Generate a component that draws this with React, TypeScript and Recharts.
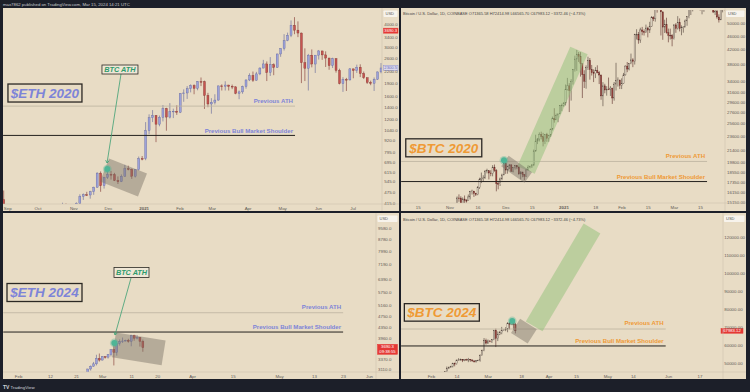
import React from 'react';
import { ComposedChart, Bar, XAxis, YAxis, ReferenceLine, ReferenceDot } from 'recharts';

const FONT = '"Liberation Sans", Arial, sans-serif';
const PANEL_BG = '#e8dcc5';
const FRAME_BG = '#1c1f29';
const TICK_COLOR = '#5f5b55';
const ETH_TEXT = '#7d84d8';
const BTC_TEXT = '#ef9a35';
const GREEN = '#3c9f73';

// ---------- ETH 2020: 3-day candles, t = days from 2021-01-01 ----------
const ETH20_START = -122;
const ETH20_STEP = 3;
const ETH20_OPEN0 = 435;
const ETH20_HIGH = [
  488, 395, 360, 392, 390, 395, 392, 352, 362, 365,
  375, 355, 367, 395, 390, 380, 395, 418, 414, 408,
  397, 420, 465, 470, 480, 486, 512, 615, 621, 580,
  625, 625, 610, 583, 598, 675, 668, 645, 640, 750,
  755, 1160, 1280, 1350, 1265, 1260, 1440, 1390, 1475, 1375,
  1435, 1675, 1755, 1830, 1870, 1870, 1950, 2040, 1960, 1680,
  1570, 1650, 1840, 1870, 1945, 1860, 1865, 1825, 1730, 1840,
  1990, 2150, 2200, 2190, 2320, 2550, 2500, 2640, 2440, 2760,
  2950, 3530, 3600, 4200, 4380, 4150, 3600, 2950, 2750, 2910,
  2710, 2890, 2860, 2840, 2620, 2620, 2600, 2280, 2050, 2030,
  2300, 2280, 2400, 2410, 2200, 2040, 1960, 2040, 2200, 2450,
];
const ETH20_LOW = [
  370, 310, 330, 350, 360, 360, 335, 315, 340, 350,
  340, 335, 336, 364, 370, 360, 370, 390, 385, 370,
  375, 373, 412, 433, 455, 440, 462, 505, 480, 500,
  565, 560, 550, 530, 543, 580, 630, 565, 575, 628,
  715, 716, 995, 1160, 900, 1100, 1170, 1040, 1215, 1220,
  1270, 1300, 1500, 1555, 1690, 1650, 1735, 1830, 1370, 1400,
  1290, 1450, 1520, 1730, 1730, 1730, 1760, 1650, 1550, 1660,
  1770, 1950, 1930, 1960, 2100, 2290, 1950, 2080, 2100, 2300,
  2650, 2870, 3230, 3400, 3530, 3400, 1900, 1950, 1730, 2320,
  2160, 2560, 2550, 2330, 2250, 2300, 2170, 1870, 1700, 1720,
  1960, 2020, 2160, 2050, 2000, 1880, 1850, 1720, 1980, 2150,
];
const ETH20_CLOSE = [
  385, 353, 351, 387, 364, 384, 341, 348, 357, 360,
  346, 341, 365, 387, 378, 378, 392, 410, 405, 387,
  383, 415, 453, 462, 461, 480, 509, 608, 518, 575,
  598, 596, 554, 545, 585, 642, 638, 585, 635, 731,
  730, 1041, 1225, 1262, 1130, 1233, 1377, 1236, 1324, 1331,
  1314, 1660, 1677, 1768, 1843, 1779, 1937, 1935, 1626, 1459,
  1492, 1533, 1834, 1826, 1854, 1823, 1812, 1669, 1700, 1820,
  1977, 2093, 1971, 2135, 2299, 2422, 2171, 2397, 2317, 2747,
  2945, 3253, 3484, 3952, 3715, 3581, 2460, 2295, 2706, 2419,
  2707, 2855, 2715, 2609, 2372, 2590, 2231, 1888, 1990, 1979,
  2275, 2226, 2324, 2147, 2033, 1915, 1895, 1995, 2189, 2300.5,
];
const ETH20_XTICKS = [-122, -92, -61, -31, 0, 31, 59, 90, 120, 151, 181];
const ETH20_XLABELS = ['Sep', 'Oct', 'Nov', 'Dec', '2021', 'Feb', 'Mar', 'Apr', 'May', 'Jun', 'Jul'];
const ETH20_YTICKS = [4000, 3400, 3000, 2600, 2200, 1900, 1600, 1400, 1200, 1040, 920, 795, 695, 615, 545, 475, 415];

// ---------- BTC 2020: daily candles, d = days from 2021-01-01 ----------
const BTC20_START = -58; // 2020-11-04
const BTC20_OPEN0 = 14030;
const BTC20_HIGH = [
  14250, 15750, 15970, 15770, 15650, 15850, 15470, 15960, 16350, 16480, 16330, 16140, 16880, 17850, 18480, 18150, 18800, 18960, 18700, 18770, 19420, 19500, 18900, 17480, 17880, 18340, 19860,
  19920, 19340, 19560, 19520, 19180, 19420, 19420, 19290, 18640, 18560, 18290, 18950, 19410, 19350, 19570, 21560, 23800, 23290, 24170, 24290, 24100, 23840, 24100, 23780, 24790, 26870, 28420, 27410, 27380, 28990, 29300,
  29600, 33300, 34800, 33600, 34500, 36940, 40380, 41950, 41380, 41350, 38260, 36630, 37850, 40100, 39750, 37950, 36850, 37400, 37860, 36420, 35600, 33830, 33460, 32940, 34880, 32940, 32560, 33860, 38500, 34930, 34340,
  34700, 35990, 37850, 38700, 38320, 40950, 39700, 46750, 48200, 47330, 48680, 48950, 48160, 49710, 49000, 50640, 52620, 52550, 56300, 57490, 58350, 57520, 54200, 51350, 52050, 48400, 48380, 46640,
  49800, 50200, 52600, 51800, 49450, 49200, 51450, 52400, 54900, 57400, 58100, 58000, 61700, 61600, 60600, 56950, 58950, 60000, 59450, 59900, 58600, 58400, 55850, 57200, 53250, 55100, 56600, 56550,
];
const BTC20_LOW = [
  13530, 14100, 15200, 14350, 14700, 14800, 15100, 15280, 15440, 15950, 15700, 15800, 15880, 16560, 17220, 17360, 17750, 18380, 17650, 18030, 18020, 18580, 16300, 16520, 16890, 17550, 18180,
  18320, 18340, 18920, 18570, 18500, 18860, 18900, 18200, 17650, 17910, 17570, 18020, 18730, 19000, 19050, 19290, 21230, 22350, 22750, 23060, 22020, 22360, 22700, 22700, 23440, 24500, 25800, 26280, 25880, 27320, 27850,
  28700, 28950, 32000, 27700, 29900, 33290, 36300, 36500, 38720, 35110, 30420, 32530, 32380, 36700, 34400, 35360, 33850, 34760, 35880, 33400, 30070, 28800, 31400, 30900, 32080, 30840, 29240, 29890, 31990, 32850, 32300,
  32300, 33420, 35360, 36160, 36600, 38140, 37400, 38060, 45000, 43740, 43990, 46300, 46210, 47100, 45640, 47000, 48970, 50880, 50700, 53850, 55500, 46230, 44900, 47000, 46800, 44150, 45000, 43000,
  45000, 47050, 48100, 47500, 46300, 47100, 48880, 49320, 51850, 53000, 54300, 55000, 56100, 58950, 54600, 53250, 54150, 57000, 56300, 57850, 55500, 53700, 53000, 51700, 50400, 51250, 53950, 54700,
];
const BTC20_CLOSE = [
  14150, 15590, 15580, 14830, 15480, 15330, 15310, 15700, 16290, 16330, 16070, 15960, 16730, 17660, 17800, 17820, 18660, 18700, 18420, 18370, 19160, 18720, 17160, 17140, 17720, 18180, 19700,
  18790, 19230, 19450, 18650, 19150, 19360, 19170, 18320, 18550, 18250, 18040, 18810, 19170, 19270, 19440, 21350, 22810, 23130, 23850, 23480, 22740, 23820, 23240, 23730, 24710, 26490, 26280, 27040, 27360, 28890, 29000,
  29410, 32200, 33000, 31990, 33990, 36800, 39480, 40670, 40240, 38240, 35550, 34050, 37390, 39150, 36770, 36020, 35800, 36630, 36010, 35470, 30850, 33000, 32100, 32290, 32270, 32510, 30430, 33400, 34270, 34320, 33110,
  33540, 35510, 37670, 36930, 38290, 39260, 38870, 46450, 46530, 44850, 47970, 47380, 47180, 48580, 47930, 49140, 52150, 51660, 55890, 55840, 57410, 54130, 48890, 49700, 47060, 46290, 46180, 45240,
  49620, 48440, 50370, 48370, 48760, 48880, 50970, 52380, 54880, 55860, 57800, 57230, 61180, 58970, 55610, 56900, 58910, 57650, 58030, 58100, 57350, 54090, 54340, 52300, 51300, 55060, 55840, 55780,
];
const BTC20_XTICKS = [-78, -61, -46, -31, -17, 0, 17, 31, 45, 59, 73];
const BTC20_XLABELS = ['15', 'Nov', '16', 'Dec', '15', '2021', '18', 'Feb', '15', 'Mar', '15'];
const BTC20_YTICKS = [50000, 46000, 42000, 38000, 34000, 31600, 29600, 27600, 25600, 23600, 21400, 19800, 18550, 17350, 16150, 15150];

// ---------- ETH 2024: daily candles, d = days from 2024-03-01 ----------
const ETH24_START = -6; // 2024-02-24
const ETH24_OPEN0 = 2920;
const ETH24_HIGH = [3005, 3115, 3200, 3290, 3485, 3520, 3450, 3450, 3500, 3640, 3830, 3900, 3940, 4000, 3930, 3960, 4090, 4090, 4080, 4010, 3935];
const ETH24_LOW = [2910, 2985, 3070, 3170, 3200, 3300, 3330, 3380, 3380, 3440, 3200, 3460, 3750, 3830, 3880, 3840, 3730, 3900, 3940, 3720, 3570];
const ETH24_CLOSE = [2995, 3110, 3180, 3240, 3385, 3340, 3430, 3420, 3490, 3630, 3550, 3815, 3870, 3890, 3910, 3880, 4065, 3980, 4005, 3880, 3690.3];
const ETH24_XTICKS = [-29, -18, -9, 0, 10, 19, 31, 45, 61, 73, 83, 92];
const ETH24_XLABELS = ['Feb', '12', '21', 'Mar', '11', '20', 'Apr', '15', 'May', '13', '23', 'Jun'];
const ETH24_YTICKS = [9580, 8780, 7990, 7190, 6390, 5750, 5160, 4750, 4350, 3960, 3370, 3110];

// ---------- BTC 2024: daily candles, d = days from 2024-03-01 ----------
const BTC24_START = -23; // 2024-02-07
const BTC24_OPEN0 = 43090;
const BTC24_HIGH = [
  44380, 45600, 48200, 48170, 48590, 50300, 50370, 52000, 52820, 52570, 52200, 52370, 52480, 52980, 52380, 52040, 51560, 51700, 51960,
  54940, 57560, 64000, 63680, 63170, 62480, 63300, 68530, 69200, 67640, 67970, 70170, 68600, 70000, 72800, 72950, 73650, 73780, 72414.98,
];
const BTC24_LOW = [
  42770, 44330, 45250, 46800, 47550, 47700, 48300, 49250, 51330, 51600, 50650, 51170, 51700, 50600, 50850, 50900, 50580, 50580, 51300,
  50900, 54450, 56700, 60400, 60800, 61660, 61250, 62820, 59000, 62300, 65600, 66100, 68100, 67800, 67200, 68800, 71350, 68600, 66565.7,
];
const BTC24_CLOSE = [
  44340, 45300, 47130, 47750, 48300, 49920, 49700, 51800, 51900, 52130, 51640, 52120, 51780, 52270, 51840, 51300, 50740, 51570, 51730,
  54480, 57060, 62500, 61170, 62430, 62050, 63150, 68300, 63800, 66100, 66900, 68300, 68500, 68950, 72100, 71500, 73100, 71355.58, 67983.12,
];
const BTC24_XTICKS = [-29, -16, 0, 17, 31, 45, 61, 74, 92, 108];
const BTC24_XLABELS = ['Feb', '14', 'Mar', '18', 'Apr', '15', 'May', '14', 'Jun', '17'];
const BTC24_YTICKS = [120000, 110000, 100000, 90000, 80000, 70000, 60000, 50000];

const BTC_HEADER = 'Bitcoin / U.S. Dollar, 1D, COINBASE   O71365.58 H72414.98 L66565.70 C67983.12 \u22123372.46 (\u22124.73%)';

function candles(start: number, step: number, open0: number, high: number[], low: number[], close: number[]) {
  return close.map((c, i) => ({
    t: start + i * step,
    o: i === 0 ? open0 : close[i - 1],
    h: high[i],
    l: low[i],
    c,
    range: [low[i], high[i]],
  }));
}

const ETH_PAL = { up: { body: '#9ca1d9', edge: '#5f6399' }, down: { body: '#c65450', edge: '#7d302d' } };
const BTC_PAL = { up: { body: '#f1e8d6', edge: '#4d3e36' }, down: { body: '#a13f39', edge: '#5a2a26' } };

function Candle(props: any) {
  const { x, y, width, height, payload, log, pal, bw } = props;
  if (x == null || y == null || !payload) return <g />;
  const top = Math.min(y, y + height);
  const bot = Math.max(y, y + height);
  const f = (v: number) => (log ? Math.log(v) : v);
  const span = f(payload.h) - f(payload.l);
  const py = (v: number) => (span > 0 ? bot - ((f(v) - f(payload.l)) / span) * (bot - top) : top);
  const cx = x + width / 2;
  const yo = py(payload.o);
  const yc = py(payload.c);
  const c = payload.c >= payload.o ? pal.up : pal.down;
  return (
    <g>
      <line x1={cx} x2={cx} y1={top} y2={bot} stroke={c.edge} strokeWidth={0.6} />
      <rect
        x={cx - bw / 2}
        y={Math.min(yo, yc)}
        width={bw}
        height={Math.max(0.7, Math.abs(yc - yo))}
        fill={c.body}
        stroke={c.edge}
        strokeWidth={0.35}
      />
    </g>
  );
}

const makeXTick = (ticks: number[], labels: string[]) => (p: any) => {
  const lab = labels[ticks.indexOf(p.payload.value)];
  // a label sitting on the very left edge is pinned inside the panel
  const atEdge = p.x < 6;
  return (
    <text
      x={atEdge ? 0.8 : p.x}
      y={p.y + 5.8}
      textAnchor={atEdge ? 'start' : 'middle'}
      fontSize={4.4}
      fill={TICK_COLOR}
      fontFamily={FONT}
      fontWeight={lab === '2021' ? 700 : 400}
    >
      {lab}
    </text>
  );
};

const makeYTick = (digits: number, dx: number) => (p: any) => (
  <text x={p.x + dx} y={p.y + 1.6} fontSize={4.4} fill={TICK_COLOR} fontFamily={FONT}>
    {Number(p.payload.value).toFixed(digits)}
  </text>
);

// horizontal level with right-aligned caption
const levelShape = (stroke: string, sw: number, label: string, color: string, dy: number) => (p: any) => {
  const right = Math.max(p.x1, p.x2);
  return (
    <g>
      <line x1={p.x1} y1={p.y1} x2={p.x2} y2={p.y2} stroke={stroke} strokeWidth={sw} />
      <text x={right - 2} y={p.y1 - dy} textAnchor="end" fontSize={6.1} fontWeight={700} fill={color} fontFamily={FONT}>
        {label}
      </text>
    </g>
  );
};

// rotated rectangle around the segment
const bandShape = (halfW: number, fill: string) => (p: any) => {
  const dx = p.x2 - p.x1;
  const dy = p.y2 - p.y1;
  const len = Math.hypot(dx, dy) || 1;
  const nx = (-dy / len) * halfW;
  const ny = (dx / len) * halfW;
  const pts = [
    [p.x1 + nx, p.y1 + ny],
    [p.x2 + nx, p.y2 + ny],
    [p.x2 - nx, p.y2 - ny],
    [p.x1 - nx, p.y1 - ny],
  ]
    .map((q) => q.join(','))
    .join(' ');
  return <polygon points={pts} fill={fill} />;
};

const arrowShape = (color: string) => (p: any) => {
  const dx = p.x2 - p.x1;
  const dy = p.y2 - p.y1;
  const len = Math.hypot(dx, dy) || 1;
  const ux = dx / len;
  const uy = dy / len;
  const a = 3.2;
  const h1 = [p.x2 - a * (ux * 0.82 - uy * 0.57), p.y2 - a * (uy * 0.82 + ux * 0.57)];
  const h2 = [p.x2 - a * (ux * 0.82 + uy * 0.57), p.y2 - a * (uy * 0.82 - ux * 0.57)];
  return (
    <g stroke={color} strokeWidth={0.8} fill="none">
      <line x1={p.x1} y1={p.y1} x2={p.x2} y2={p.y2} />
      <polyline points={`${h1[0]},${h1[1]} ${p.x2},${p.y2} ${h2[0]},${h2[1]}`} />
    </g>
  );
};

const boxShape = (w: number, h: number, text: string, color: string, size: number, fill: string, sw: number) => (p: any) => (
  <g>
    <rect x={p.cx - w / 2} y={p.cy - h / 2} width={w} height={h} fill={fill} stroke="#2b2824" strokeWidth={sw} />
    <text x={p.cx} y={p.cy + size * 0.36} textAnchor="middle" fontSize={size} fontWeight={700} fontStyle="italic" fill={color} fontFamily={FONT}>
      {text}
    </text>
  </g>
);

const athDot = (p: any) => (
  <g>
    <circle cx={p.cx} cy={p.cy} r={4.4} fill="rgba(79,181,150,0.35)" />
    <circle cx={p.cx} cy={p.cy} r={3} fill="#4fb596" />
  </g>
);

// price tag drawn on the right-hand price scale
const priceTag = (dx: number, w: number, h: number, up: number, lines: string[], fill: string, stroke: string, color: string) => (p: any) => {
  const right = Math.max(p.x1, p.x2);
  return (
    <g>
      <rect x={right + dx} y={p.y1 - up} width={w} height={h} fill={fill} stroke={stroke} strokeWidth={0.5} />
      {lines.map((s, i) => (
        <text key={i} x={right + dx + w / 2} y={p.y1 - up + 3.9 + i * 4.6} textAnchor="middle" fontSize={4.2} fill={color} fontFamily={FONT}>
          {s}
        </text>
      ))}
    </g>
  );
};

type PanelProps = {
  w: number;
  h: number;
  yw: number;
  xh: number;
  data: any[];
  xDomain: number[];
  xTicks: number[];
  xLabels: string[];
  yDomain: number[];
  yTicks: number[];
  digits: number;
  labelDx: number;
  log: boolean;
  barSize: number;
  pal: any;
  notes: React.ReactNode[];
};

function Panel(p: PanelProps) {
  return (
    <ComposedChart width={p.w} height={p.h} data={p.data} margin={{ top: 2, right: 0, bottom: 0, left: 0 }}>
      <XAxis
        dataKey="t"
        type="number"
        domain={p.xDomain}
        allowDataOverflow
        ticks={p.xTicks}
        interval={0}
        tickLine={false}
        axisLine={false}
        tickSize={0}
        tickMargin={0}
        height={p.xh}
        tick={makeXTick(p.xTicks, p.xLabels)}
      />
      <YAxis
        orientation="right"
        type="number"
        scale={p.log ? 'log' : 'linear'}
        domain={p.yDomain}
        allowDataOverflow
        ticks={p.yTicks}
        interval={0}
        tickLine={false}
        axisLine={false}
        tickSize={0}
        tickMargin={0}
        width={p.yw}
        tick={makeYTick(p.digits, p.labelDx)}
      />
      <Bar
        dataKey="range"
        barSize={p.barSize}
        isAnimationActive={false}
        shape={(s: any) => <Candle {...s} log={p.log} pal={p.pal} bw={p.barSize} />}
      />
      {p.notes}
    </ComposedChart>
  );
}

const eth20Notes = [
  <ReferenceLine key="a" ifOverflow="visible" segment={[{ x: -122.3, y: 1420 }, { x: 130.7, y: 1420 }]} shape={levelShape('#bdb29f', 0.8, 'Previous ATH', ETH_TEXT, 3.6)} />,
  <ReferenceLine key="s" ifOverflow="visible" segment={[{ x: -122.3, y: 980 }, { x: 130.7, y: 980 }]} shape={levelShape('#24211e', 1, 'Previous Bull Market Shoulder', ETH_TEXT, 2.7)} />,
  <ReferenceLine key="b" ifOverflow="visible" segment={[{ x: -34.4, y: 632 }, { x: -1.5, y: 523 }]} shape={bandShape(12.3, 'rgba(120,110,100,0.45)')} />,
  <ReferenceLine key="ar" ifOverflow="visible" segment={[{ x: -20.1, y: 2132 }, { x: -32.2, y: 691 }]} shape={arrowShape(GREEN)} />,
  <ReferenceDot key="d" ifOverflow="visible" x={-32} y={640} shape={athDot} />,
  <ReferenceDot key="bt" ifOverflow="visible" x={-21} y={2257} shape={boxShape(36, 9, 'BTC ATH', '#2e9b6c', 7.3, '#efe7d6', 0.8)} />,
  <ReferenceDot key="ti" ifOverflow="visible" x={-86} y={1676} shape={boxShape(74, 18, '$ETH 2020', ETH_TEXT, 13.5, 'none', 1.3)} />,
  <ReferenceLine key="pr" ifOverflow="visible" y={3690.3} shape={priceTag(1.5, 14.5, 5, 2.5, ['3690.3'], '#e53935', '#e53935', '#ffffff')} />,
  <ReferenceLine key="lp" ifOverflow="visible" y={2300.5} shape={priceTag(1.5, 14.5, 5, 2.5, ['2300.5'], '#dcd8ea', '#8d92d4', '#6a6fbf')} />,
];

const btc20Notes = [
  <ReferenceLine key="a" ifOverflow="visible" segment={[{ x: -87.1, y: 19900 }, { x: 76.5, y: 19900 }]} shape={levelShape('#bdb29f', 0.8, 'Previous ATH', BTC_TEXT, 3.6)} />,
  <ReferenceLine key="s" ifOverflow="visible" segment={[{ x: -87.1, y: 17400 }, { x: 76.5, y: 17400 }]} shape={levelShape('#24211e', 1, 'Previous Bull Market Shoulder', BTC_TEXT, 2.7)} />,
  <ReferenceLine key="g" ifOverflow="visible" segment={[{ x: -20.3, y: 18796 }, { x: 8.0, y: 41800 }]} shape={bandShape(9.5, 'rgba(143,191,120,0.5)')} />,
  <ReferenceLine key="b" ifOverflow="visible" segment={[{ x: -31.6, y: 19960 }, { x: -19.1, y: 17875 }]} shape={bandShape(6.5, 'rgba(120,110,100,0.45)')} />,
  <ReferenceDot key="d" ifOverflow="visible" x={-32.1} y={20060} shape={athDot} />,
  <ReferenceDot key="ti" ifOverflow="visible" x={-64.3} y={21804} shape={boxShape(76, 18, '$BTC 2020', BTC_TEXT, 13.5, 'none', 1.3)} />,
];

const eth24Notes = [
  <ReferenceLine key="a" ifOverflow="visible" segment={[{ x: -34.3, y: 4878 }, { x: 82.9, y: 4878 }]} shape={levelShape('#bdb29f', 0.8, 'Previous ATH', ETH_TEXT, 3.6)} />,
  <ReferenceLine key="s" ifOverflow="visible" segment={[{ x: -34.3, y: 4180 }, { x: 82.9, y: 4180 }]} shape={levelShape('#24211e', 1, 'Previous Bull Market Shoulder', ETH_TEXT, 2.7)} />,
  <ReferenceLine key="b" ifOverflow="visible" segment={[{ x: 3.9, y: 3771 }, { x: 21.0, y: 3538 }]} shape={bandShape(12.5, 'rgba(120,110,100,0.45)')} />,
  <ReferenceLine key="ar" ifOverflow="visible" segment={[{ x: 9.76, y: 6439 }, { x: 4.24, y: 4082 }]} shape={arrowShape(GREEN)} />,
  <ReferenceDot key="d" ifOverflow="visible" x={4} y={3829} shape={athDot} />,
  <ReferenceDot key="bt" ifOverflow="visible" x={9.93} y={6732} shape={boxShape(35, 10, 'BTC ATH', '#2e9b6c', 7.3, '#efe7d6', 0.8)} />,
  <ReferenceDot key="ti" ifOverflow="visible" x={-20.07} y={5735} shape={boxShape(75, 18, '$ETH 2024', ETH_TEXT, 13.5, 'none', 1.3)} />,
  <ReferenceLine key="pr" ifOverflow="visible" y={3690.3} shape={priceTag(1.5, 20, 10, 3.3, ['3690.3', '09:38:55'], '#e53935', '#e53935', '#ffffff')} />,
];

const btc24Notes = [
  <ReferenceLine key="a" ifOverflow="visible" segment={[{ x: -44.5, y: 69000 }, { x: 90.5, y: 69000 }]} shape={levelShape('#bdb29f', 0.8, 'Previous ATH', BTC_TEXT, 3.6)} />,
  <ReferenceLine key="s" ifOverflow="visible" segment={[{ x: -44.5, y: 59600 }, { x: 90.5, y: 59600 }]} shape={levelShape('#24211e', 1, 'Previous Bull Market Shoulder', BTC_TEXT, 2.7)} />,
  <ReferenceLine key="g" ifOverflow="visible" segment={[{ x: 23.4, y: 70440 }, { x: 52.9, y: 124712 }]} shape={bandShape(9.7, 'rgba(143,191,120,0.5)')} />,
  <ReferenceLine key="b" ifOverflow="visible" segment={[{ x: 13.9, y: 70720 }, { x: 22.4, y: 64900 }]} shape={bandShape(8.5, 'rgba(120,110,100,0.45)')} />,
  <ReferenceDot key="d" ifOverflow="visible" x={12.2} y={73437} shape={athDot} />,
  <ReferenceDot key="ti" ifOverflow="visible" x={-23.7} y={78200} shape={boxShape(75, 17.5, '$BTC 2024', BTC_TEXT, 13.5, 'none', 1.3)} />,
  <ReferenceLine key="pr" ifOverflow="visible" y={67983.12} shape={priceTag(-2, 22, 4.8, 2.4, ['67983.12'], '#e53935', '#e53935', '#ffffff')} />,
];

function UsdBox({ x, y, w }: { x: number; y: number; w: number }) {
  return (
    <g>
      <rect x={x} y={y} width={w} height={6.5} rx={0.8} fill="#f7f3ec" />
      <text x={x + 2} y={y + 4.7} fontSize={4} fill="#555" fontFamily={FONT}>
        USD
      </text>
    </g>
  );
}

export default function App() {
  const eth20 = candles(ETH20_START, ETH20_STEP, ETH20_OPEN0, ETH20_HIGH, ETH20_LOW, ETH20_CLOSE);
  const btc20 = candles(BTC20_START, 1, BTC20_OPEN0, BTC20_HIGH, BTC20_LOW, BTC20_CLOSE);
  const eth24 = candles(ETH24_START, 1, ETH24_OPEN0, ETH24_HIGH, ETH24_LOW, ETH24_CLOSE);
  const btc24 = candles(BTC24_START, 1, BTC24_OPEN0, BTC24_HIGH, BTC24_LOW, BTC24_CLOSE);

  const box = (left: number, top: number, w: number, h: number): React.CSSProperties => ({
    position: 'absolute',
    left,
    top,
    width: w,
    height: h,
    background: PANEL_BG,
  });

  return (
    <div style={{ position: 'fixed', left: 0, top: 0, width: 750, height: 392, background: FRAME_BG, overflow: 'hidden' }}>
      <div style={box(3, 8, 396, 203)}>
        <Panel
          w={396} h={203} yw={17} xh={7} data={eth20}
          xDomain={[-122.36, 206.07]} xTicks={ETH20_XTICKS} xLabels={ETH20_XLABELS}
          yDomain={[411.3, 4793.6]} yTicks={ETH20_YTICKS} digits={1} labelDx={2.3}
          log barSize={2} pal={ETH_PAL} notes={eth20Notes}
        />
      </div>
      <div style={box(401, 8, 345, 203)}>
        <Panel
          w={345} h={203} yw={21} xh={8} data={btc20}
          xDomain={[-87.17, 86.1]} xTicks={BTC20_XTICKS} xLabels={BTC20_XLABELS}
          yDomain={[15075, 54810]} yTicks={BTC20_YTICKS} digits={2} labelDx={2}
          log barSize={1.2} pal={BTC_PAL} notes={btc20Notes}
        />
      </div>
      <div style={box(3, 213, 396, 166)}>
        <Panel
          w={396} h={166} yw={23} xh={7} data={eth24}
          xDomain={[-34.38, 94.24]} xTicks={ETH24_XTICKS} xLabels={ETH24_XLABELS}
          yDomain={[3036, 10662]} yTicks={ETH24_YTICKS} digits={1} labelDx={2}
          log barSize={2} pal={ETH_PAL} notes={eth24Notes}
        />
      </div>
      <div style={box(401, 213, 345, 166)}>
        <Panel
          w={345} h={166} yw={23} xh={7} data={btc24}
          xDomain={[-44.54, 119.74]} xTicks={BTC24_XTICKS} xLabels={BTC24_XLABELS}
          yDomain={[45166, 132195]} yTicks={BTC24_YTICKS} digits={2} labelDx={1.3}
          log={false} barSize={1.3} pal={BTC_PAL} notes={btc24Notes}
        />
      </div>

      <svg width={750} height={392} style={{ position: 'absolute', left: 0, top: 0, pointerEvents: 'none' }}>
        <g stroke="#cbbfa8" strokeWidth={0.5}>
          <line x1={382} y1={8} x2={382} y2={211} />
          <line x1={725} y1={8} x2={725} y2={211} />
          <line x1={376} y1={213} x2={376} y2={379} />
          <line x1={723} y1={213} x2={723} y2={379} />
          <line x1={3} y1={204} x2={399} y2={204} />
          <line x1={401} y1={203} x2={746} y2={203} />
          <line x1={3} y1={372} x2={399} y2={372} />
          <line x1={401} y1={372} x2={746} y2={372} />
        </g>
        <text x={3} y={5.6} fontSize={4.3} fill="#c9cbd1" fontFamily={FONT}>
          max7862 published on TradingView.com, Mar 15, 2024 14:21 UTC
        </text>
        <text x={3} y={388.5} fontSize={5} fontWeight={700} fill="#d1d4dc" fontFamily={FONT}>
          TV
        </text>
        <text x={10.5} y={388.5} fontSize={4.4} fill="#d1d4dc" fontFamily={FONT}>
          TradingView
        </text>
        <text x={403} y={14.8} fontSize={4} fill="#444" fontFamily={FONT}>
          {BTC_HEADER}
        </text>
        <text x={403} y={220.5} fontSize={4} fill="#444" fontFamily={FONT}>
          {BTC_HEADER}
        </text>
        <UsdBox x={383.5} y={10.5} w={14} />
        <UsdBox x={726} y={10.5} w={18.5} />
        <UsdBox x={377.5} y={215.5} w={20} />
        <UsdBox x={724} y={215.5} w={20.5} />
      </svg>
    </div>
  );
}
